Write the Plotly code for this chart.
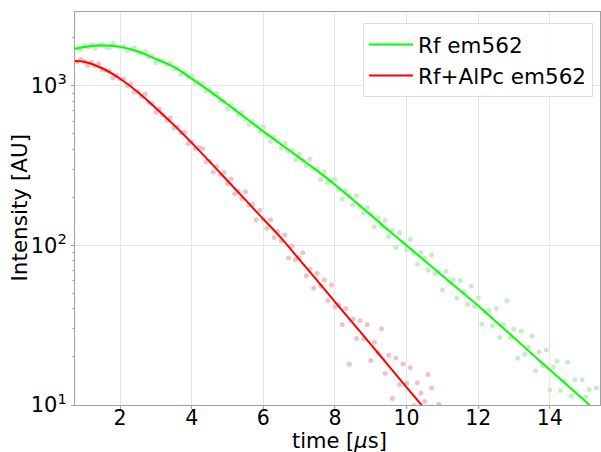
import plotly.graph_objects as go

# ---- data ----
t_points = [0.8, 0.9, 1.0, 1.1, 1.2, 1.3, 1.4, 1.5, 1.6, 1.7, 1.8, 1.9, 2.0, 2.1, 2.2, 2.3, 2.4, 2.5, 2.6, 2.7,
            2.8, 2.9, 3.0, 3.1, 3.2, 3.3, 3.4, 3.5, 3.6, 3.7, 3.8, 3.9, 4.0, 4.1, 4.2, 4.3, 4.4, 4.5, 4.6, 4.7,
            4.8, 4.9, 5.0, 5.1, 5.2, 5.3, 5.4, 5.5, 5.6, 5.7, 5.8, 5.9, 6.0, 6.1, 6.2, 6.3, 6.4, 6.5, 6.6, 6.7,
            6.8, 6.9, 7.0, 7.1, 7.2, 7.3, 7.4, 7.5, 7.6, 7.7, 7.8, 7.9, 8.0, 8.1, 8.2, 8.3, 8.4, 8.5, 8.6, 8.7,
            8.8, 8.9, 9.0, 9.1, 9.2, 9.3, 9.4, 9.5, 9.6, 9.7, 9.8, 9.9, 10.0, 10.1, 10.2, 10.3, 10.4, 10.5, 10.6, 10.7,
            10.8, 10.9, 11.0, 11.1, 11.2, 11.3, 11.4, 11.5, 11.6, 11.7, 11.8, 11.9, 12.0, 12.1, 12.2, 12.3, 12.4, 12.5, 12.6, 12.7,
            12.8, 12.9, 13.0, 13.1, 13.2, 13.3, 13.4, 13.5, 13.6, 13.7, 13.8, 13.9, 14.0, 14.1, 14.2, 14.3, 14.4, 14.5, 14.6, 14.7,
            14.8, 14.9, 15.0, 15.1, 15.2, 15.3]

rf_points = [1733, 1691, 1803, 1748, 1808, 1718, 1796, 1830, 1753, 1729, 1843, 1776, 1744, 1772, 1657, 1692, 1723, 1608, 1603, 1638,
             1516, 1533, 1401, 1439, 1427, 1358, 1385, 1279, 1283, 1183, 1210, 1133, 1159, 1038, 1042, 1029, 924, 947, 885, 896,
             802, 791, 716, 757, 710, 657, 683, 618, 573, 598, 560, 516, 554, 486, 448, 477, 450, 408, 436, 390,
             394, 344, 372, 342, 317, 348, 301, 302, 259, 288, 248, 255, 259, 223, 195, 221, 204, 179, 205, 175,
             160, 172, 158, 131, 149, 132, 143, 114, 124, 97, 120, 104.5, 94, 109, 89.4, 76.1, 90.3, 83.5, 69.8, 87.1,
             66.6, 68.4, 52.6, 68.8, 58.3, 60.8, 46.6, 60.2, 51.3, 42.8, 55.7, 41.4, 47.0, 32.1, 38.1, 39.1, 31.4, 40.2, 26.5, 32.1,
             45.0, 26.4, 29.9, 19.6, 29.0, 20.8, 23.0, 27.1, 16.4, 21.5, 17.7, 22.1, 12.4, 17.3, 18.8, 12.3, 14.2, 18.5, 11.4, 14.4,
             7.6, 14.4, 11.2, 12.5, 8.2, 12.8]

rfalpc_points = [1408, 1465, 1421, 1341, 1401, 1334, 1373, 1255, 1257, 1240, 1121, 1159, 1103, 1101, 1005, 1028, 916, 922, 859, 887,
                 790, 776, 683, 714, 658, 607, 631, 544, 552, 508, 511, 435, 446, 404, 410, 404, 336, 337, 288, 312,
                 278, 286, 243, 261, 211, 218, 197, 217, 179, 181, 145, 166, 146, 128, 145, 112, 122, 107, 116, 83.4,
                 99.2, 81.5, 83.8, 90.0, 64.6, 71.0, 54.0, 66.6, 55.7, 60.8, 45.2, 56.5, 41.2, 42.3, 32.0, 40.3, 18.0, 34.6, 26.1, 33.7,
                 25.9, 31.9, 19.0, 24.7, 21.2, 30.0, 15.8, 20.5, 11.0, 19.7, 13.4, 18.1, 13.7, 17.1, 9.9, 13.8, 11.9, 10.5, 15.5, 12.8,
                 6.4, 10.1]

t_fit_rf = [0.74, 1.0, 1.5, 2.0, 2.5, 3.0, 3.5, 4.0, 4.5, 5.0, 5.5, 6.0, 6.5, 7.0, 7.5, 8.0, 8.5, 9.0, 9.5, 10.0,
            10.5, 11.0, 11.5, 12.0, 12.5, 13.0, 13.5, 14.0, 14.5, 15.0, 15.4]
rf_fit = [1702, 1750, 1786, 1754, 1641, 1472, 1312, 1109, 927, 767, 631, 518, 429, 355, 294, 240, 193, 155, 124, 100,
          80.4, 64.6, 51.9, 41.8, 33.2, 26.4, 20.9, 16.6, 13.2, 10.5, 8.7]

t_fit_alpc = [0.74, 1.0, 1.5, 2.0, 2.5, 3.0, 3.5, 4.0, 4.5, 5.0, 5.5, 6.0, 6.5, 7.0, 7.5, 8.0, 8.5, 9.0, 9.5, 10.0, 10.5]
rfalpc_fit = [1432, 1413, 1288, 1107, 912, 724, 569, 439, 335, 254, 193, 146, 111, 81.8, 60.3, 44.3, 32.6, 24.0, 17.6, 12.9, 9.5]

series_names = ["Rf em562", "Rf+AlPc em562"]
x_title = "time [<i>μ</i>s]"
y_title = "Intensity [AU]"
y_tick_vals = [10, 100, 1000]
y_tick_text = ["10<sup>1</sup>", "10<sup>2</sup>", "10<sup>3</sup>"]
y_minor_vals = [20, 30, 40, 50, 60, 70, 80, 90, 200, 300, 400, 500, 600, 700, 800, 900, 2000]

FONT = "DejaVu Sans"

fig = go.Figure()
fig.add_trace(go.Scatter(x=t_points, y=rf_points, mode="markers",
                         marker=dict(color="rgb(200,235,200)", size=5), showlegend=False))
fig.add_trace(go.Scatter(x=t_points[:len(rfalpc_points)], y=rfalpc_points, mode="markers",
                         marker=dict(color="rgb(236,196,196)", size=5), showlegend=False))
fig.add_trace(go.Scatter(x=t_fit_rf, y=rf_fit, mode="lines", name=series_names[0],
                         line=dict(color="#00ff00", width=2, shape="spline")))
fig.add_trace(go.Scatter(x=t_fit_alpc, y=rfalpc_fit, mode="lines", name=series_names[1],
                         line=dict(color="#ff0000", width=2, shape="spline")))

fig.update_layout(
    width=601, height=452,
    margin=dict(l=75, r=1, t=12, b=47),
    paper_bgcolor="white", plot_bgcolor="white",
    font=dict(family=FONT, size=21, color="black"),
    legend=dict(x=0.9867, y=0.972, xanchor="right", yanchor="top",
                bgcolor="rgba(255,255,255,0.85)", bordercolor="#dddddd", borderwidth=1,
                font=dict(size=21.5, family=FONT), itemwidth=44),
    annotations=[
        dict(text=x_title, xref="paper", yref="paper", x=0.503, y=0, xanchor="center", yanchor="middle",
             yshift=-35.5, showarrow=False, font=dict(size=21, family=FONT)),
        dict(text=y_title, xref="paper", yref="paper", x=0, y=0.5025, xanchor="center", yanchor="middle",
             xshift=-55, textangle=-90, showarrow=False, font=dict(size=21.5, family=FONT)),
    ],
)
fig.update_xaxes(range=[0.74, 15.4], tick0=0, dtick=2, showgrid=True, gridcolor="#e6e6e6",
                 showline=True, linecolor="#a0a0a0", mirror=True, ticks="outside", ticklen=3,
                 tickcolor="#a0a0a0", zeroline=False, automargin=False, ticklabelstandoff=-9,
                 tickfont=dict(size=20.5))
fig.update_yaxes(type="log", range=[1, 3.4625], tickvals=y_tick_vals, ticktext=y_tick_text,
                 showgrid=True, gridcolor="#e6e6e6", showline=True, linecolor="#a0a0a0", mirror=True,
                 ticks="outside", ticklen=3, tickcolor="#a0a0a0", zeroline=False, automargin=False,
                 minor=dict(tickmode="array", tickvals=y_minor_vals, ticks="outside", ticklen=2,
                            tickcolor="#b0b0b0", showgrid=False),
                 tickfont=dict(size=21))

fig.write_html("out.html")
